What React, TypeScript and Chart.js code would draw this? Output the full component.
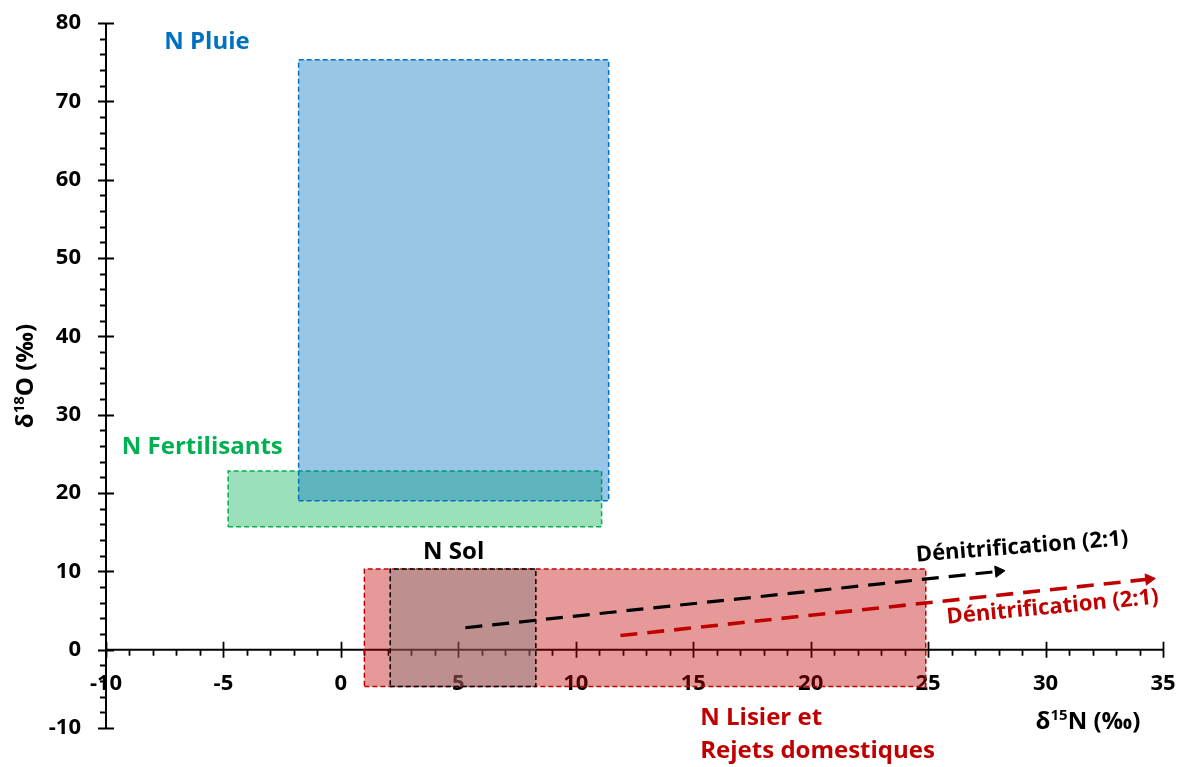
import React, { useEffect, useRef } from 'react';
import { Chart, registerables } from 'chart.js';

Chart.register(...registerables);

const xRange = [-10, 35];
const yRange = [-10, 80];
const xMajorStep = 5;
const xMinorStep = 1;
const yMajorStep = 10;
const yMinorStep = 2;

const rainBox = [-1.8, 11.4, 19.0, 75.3];
const fertilizerBox = [-4.8, 11.1, 15.7, 22.8];
const manureBox = [1.0, 24.9, -4.7, 10.3];
const soilBox = [2.1, 8.3, -4.7, 10.3];

const blackArrowX = [5.3, 28.0];
const blackArrowY = [2.8, 10.0];
const redArrowX = [11.9, 34.4];
const redArrowY = [1.8, 9.0];

const labelTexts = ['N Pluie', 'N Fertilisants', 'N Sol', 'N Lisier et', 'Rejets domestiques'];
const labelX = [-5.7, -5.9, 4.8, 15.3, 15.3];
const labelY = [77.6, 25.9, 12.4, -8.7, -13.0];
const labelColors = ['#0070C0', '#00B050', '#000000', '#C00000', '#C00000'];
const labelAlign = ['center', 'center', 'center', 'left', 'left'];

const arrowLabelTexts = ['Dénitrification (2:1)', 'Dénitrification (2:1)'];
const arrowLabelX = [29.0, 30.3];
const arrowLabelY = [13.1, 5.4];
const arrowLabelAngle = [-4.5, -5.5];
const arrowLabelColors = ['#000000', '#C00000'];

const FONT = '"Open Sans", Lato, sans-serif';

function rectPoints(b: number[]) {
  const [x1, x2, y1, y2] = b;
  return [
    { x: x1, y: y1 },
    { x: x2, y: y1 },
    { x: x2, y: y2 },
    { x: x1, y: y2 },
    { x: x1, y: y1 },
  ];
}

function arrowRotation(ctx: any) {
  const chart = ctx.chart;
  const ds = chart.data.datasets[ctx.datasetIndex];
  const d = ds.data as { x: number; y: number }[];
  const xs = chart.scales.x;
  const ys = chart.scales.y;
  if (!xs || !ys) return 90;
  const dx = xs.getPixelForValue(d[1].x) - xs.getPixelForValue(d[0].x);
  const dy = ys.getPixelForValue(d[1].y) - ys.getPixelForValue(d[0].y);
  return (Math.atan2(dx, -dy) * 180) / Math.PI;
}

function drawSupText(
  ctx: CanvasRenderingContext2D,
  parts: { t: string; sup?: boolean }[],
  cx: number,
  cy: number,
  rot: number,
  size: number
) {
  ctx.save();
  ctx.translate(cx, cy);
  ctx.rotate(rot);
  const big = `bold ${size}px ${FONT}`;
  const small = `bold ${Math.round(size * 0.62)}px ${FONT}`;
  let total = 0;
  const widths = parts.map((p) => {
    ctx.font = p.sup ? small : big;
    const w = ctx.measureText(p.t).width;
    total += w;
    return w;
  });
  let x = -total / 2;
  ctx.textBaseline = 'middle';
  ctx.textAlign = 'left';
  ctx.fillStyle = '#000';
  parts.forEach((p, i) => {
    ctx.font = p.sup ? small : big;
    ctx.fillText(p.t, x, p.sup ? -size * 0.28 : 0);
    x += widths[i];
  });
  ctx.restore();
}

const axesPlugin = {
  id: 'customAxes',
  beforeDatasetsDraw(chart: any) {
    const { ctx } = chart;
    const xs = chart.scales.x;
    const ys = chart.scales.y;
    const y0 = ys.getPixelForValue(0);
    const xLeft = xs.getPixelForValue(xRange[0]);
    ctx.save();
    ctx.strokeStyle = '#000';
    ctx.lineWidth = 2;
    ctx.beginPath();
    ctx.moveTo(xs.getPixelForValue(xRange[0]), y0);
    ctx.lineTo(xs.getPixelForValue(xRange[1]), y0);
    ctx.moveTo(xLeft, ys.getPixelForValue(yRange[0]));
    ctx.lineTo(xLeft, ys.getPixelForValue(yRange[1]));
    ctx.stroke();
    ctx.lineWidth = 1.8;
    ctx.beginPath();
    for (let v = xRange[0]; v <= xRange[1] + 1e-9; v += xMinorStep) {
      const px = Math.round(xs.getPixelForValue(v)) + 0.5;
      if (Math.abs(v % xMajorStep) < 1e-9) {
        ctx.moveTo(px, y0 - 8);
        ctx.lineTo(px, y0 + 8);
      } else {
        ctx.moveTo(px, y0);
        ctx.lineTo(px, y0 + 6);
      }
    }
    for (let v = yRange[0]; v <= yRange[1] + 1e-9; v += yMinorStep) {
      const py = Math.round(ys.getPixelForValue(v)) + 0.5;
      if (Math.abs(v % yMajorStep) < 1e-9) {
        ctx.moveTo(xLeft - 8, py);
        ctx.lineTo(xLeft + 8, py);
      } else {
        ctx.moveTo(xLeft - 6, py);
        ctx.lineTo(xLeft, py);
      }
    }
    ctx.stroke();
    ctx.restore();
  },
  afterDatasetsDraw(chart: any) {
    const { ctx } = chart;
    const xs = chart.scales.x;
    const ys = chart.scales.y;
    ctx.save();
    ctx.textBaseline = 'middle';
    ctx.font = `bold 24px ${FONT}`;
    labelTexts.forEach((t, i) => {
      ctx.fillStyle = labelColors[i];
      ctx.textAlign = labelAlign[i] as CanvasTextAlign;
      ctx.fillText(t, xs.getPixelForValue(labelX[i]), ys.getPixelForValue(labelY[i]));
    });
    arrowLabelTexts.forEach((t, i) => {
      ctx.save();
      ctx.translate(xs.getPixelForValue(arrowLabelX[i]), ys.getPixelForValue(arrowLabelY[i]));
      ctx.rotate((arrowLabelAngle[i] * Math.PI) / 180);
      ctx.fillStyle = arrowLabelColors[i];
      ctx.font = `bold 22px ${FONT}`;
      ctx.textAlign = 'center';
      ctx.textBaseline = 'middle';
      ctx.fillText(t, 0, 0);
      ctx.restore();
    });
    ctx.restore();

    drawSupText(ctx, [{ t: 'δ' }, { t: '15', sup: true }, { t: 'N (‰)' }], 1088, 722, 0, 24);
    drawSupText(ctx, [{ t: 'δ' }, { t: '18', sup: true }, { t: 'O (‰)' }], 26, 376, -Math.PI / 2, 24);
  },
};

export default function App() {
  const ref = useRef<HTMLCanvasElement>(null);
  useEffect(() => {
    if (!ref.current) return;
    const boxStyle = (fill: string, border: string, order: number) => ({
      showLine: true,
      fill: 'shape',
      backgroundColor: fill,
      borderColor: border,
      borderWidth: 1.5,
      borderDash: [5, 3],
      pointRadius: 0,
      tension: 0,
      order,
    });
    const arrowStyle = (color: string, order: number, width: number) => ({
      showLine: true,
      fill: false,
      borderColor: color,
      backgroundColor: color,
      borderWidth: width,
      borderDash: [17, 10],
      pointStyle: 'triangle',
      pointRadius: [0, 6.5],
      pointBorderWidth: 1,
      pointBackgroundColor: color,
      pointBorderColor: color,
      pointRotation: arrowRotation,
      order,
    });
    const chart = new Chart(ref.current, {
      type: 'scatter',
      data: {
        datasets: [
          { data: blackArrowX.map((x, i) => ({ x, y: blackArrowY[i] })), ...arrowStyle('#000000', 0, 3.2) } as any,
          { data: redArrowX.map((x, i) => ({ x, y: redArrowY[i] })), ...arrowStyle('#C00000', 1, 3.6) } as any,
          { data: rectPoints(rainBox), ...boxStyle('rgba(0,112,192,0.4)', '#0070C0', 2) } as any,
          { data: rectPoints(fertilizerBox), ...boxStyle('rgba(0,176,80,0.39)', '#00B050', 3) } as any,
          { data: rectPoints(soilBox), ...boxStyle('rgba(128,128,128,0.4)', '#000000', 4) } as any,
          { data: rectPoints(manureBox), ...boxStyle('rgba(192,0,0,0.4)', '#C00000', 5) } as any,
        ],
      },
      options: {
        animation: false,
        responsive: false,
        maintainAspectRatio: false,
        layout: { padding: { left: 0, top: 23, right: 19, bottom: 39 } },
        plugins: { legend: { display: false }, tooltip: { enabled: false } },
        scales: {
          x: {
            type: 'linear',
            min: xRange[0],
            max: xRange[1],
            position: { y: 0 } as any,
            grid: { display: false, drawTicks: false },
            border: { display: false },
            ticks: {
              stepSize: xMajorStep,
              color: '#000',
              font: { family: FONT, weight: 'bold', size: 22 },
              padding: 21,
              maxRotation: 0,
            },
            afterFit: (s: any) => {
              s.paddingLeft = 0;
              s.paddingRight = 0;
              s.paddingTop = 0;
              s.paddingBottom = 0;
            },
          },
          y: {
            type: 'linear',
            min: yRange[0],
            max: yRange[1],
            position: 'left',
            grid: { display: false, drawTicks: false },
            border: { display: false },
            ticks: {
              stepSize: yMajorStep,
              color: '#000',
              font: { family: FONT, weight: 'bold', size: 22 },
              padding: 25,
            },
            afterFit: (s: any) => {
              s.width = 106;
              s.paddingLeft = 0;
              s.paddingRight = 0;
              s.paddingTop = 0;
              s.paddingBottom = 0;
            },
          },
        },
      },
      plugins: [axesPlugin],
    });
    return () => chart.destroy();
  }, []);
  return (
    <div style={{ position: 'fixed', left: 0, top: 0, width: 1182, height: 767, background: '#fff' }}>
      <canvas ref={ref} width={1182} height={767} style={{ width: 1182, height: 767 }} />
    </div>
  );
}
